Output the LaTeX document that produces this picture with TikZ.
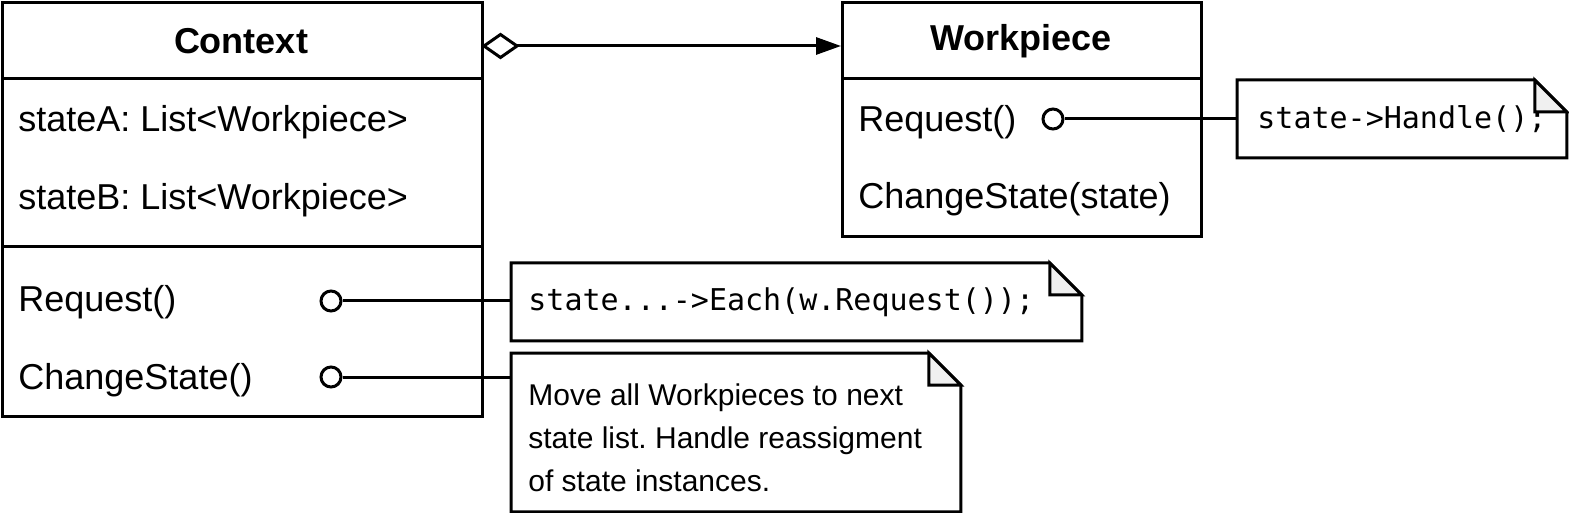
\documentclass[tikz,border=0pt]{standalone}
\usepackage{fontspec}
\setmainfont{Liberation Sans}
\newfontfamily\codefont{DejaVu Sans Mono}
\usetikzlibrary{arrows.meta,shapes.geometric}
\definecolor{foldGray}{RGB}{240,240,240}
\frenchspacing

\begin{document}
\begin{tikzpicture}
[x=0.5pt,y=-0.5pt,%
  lineDecorate/.style={-,line width=1.5pt},%
  classDecorate/.style={draw,line width=1.5pt,anchor=north west,inner sep=0pt},%
  titleDecorate/.style={font=\fontsize{18}{22}\selectfont\bfseries},%
  memberDecorate/.style={anchor=base west,inner sep=0pt,font=\fontsize{18}{22}\selectfont},%
  portDecorate/.style={shape=circle,draw,fill=white,line width=1.5pt,minimum size=10pt,inner sep=0pt},%
  aggDecorate/.style={shape=diamond,draw,fill=white,line width=1.5pt,minimum width=16.5pt,minimum height=11.5pt,inner sep=0pt,outer sep=0pt,anchor=west},%
  noteDecorate/.style={anchor=north west,align=left,inner xsep=8.5pt,font=\fontsize{15}{21.5}\selectfont}]
\useasboundingbox (0,0) rectangle (1569,513);
%% classes
\node (context) at (1,1) [classDecorate,minimum width=240pt,minimum height=207pt] {};
\node (workpiece) at (841,1) [classDecorate,minimum width=179.5pt,minimum height=117pt] {};
\draw[lineDecorate] ([yshift=-39pt]context.north west) -- ([yshift=-39pt]context.north east);
\draw[lineDecorate] ([yshift=-123pt]context.north west) -- ([yshift=-123pt]context.north east);
\draw[lineDecorate] ([yshift=-39pt]workpiece.north west) -- ([yshift=-39pt]workpiece.north east);
\node (contextTitle) at (241,41) [titleDecorate] {Context};
\node (workpieceTitle) at (1021,41) [titleDecorate] {Workpiece};
%% members
\foreach \membername/\x/\y/\membertext in {ctxStateA/18/132/{stateA: List<Workpiece>},
  ctxStateB/18/210/{stateB: List<Workpiece>}, ctxRequest/18/312/{Request()},
  ctxChange/18/389/{ChangeState()}, wpRequest/858/132/{Request()},
  wpChange/858/209/{ChangeState(state)}}
{
  \node (\membername) at (\x,\y) [memberDecorate] {\membertext};
}
%% ports
\foreach \portname/\x/\y in {ctxRequestPort/331/301, ctxChangePort/331/377, wpRequestPort/1053/119}
{
  \node (\portname) at (\x,\y) [portDecorate] {};
}
%% notes
\node (handleNote) at (1237,80) [noteDecorate,minimum width=164.5pt,minimum height=38.5pt,
  text width=144.5pt,inner xsep=10pt,font=\fontsize{15}{21.5}\selectfont\codefont] {state->Handle();};
\node (eachNote) at (511,263) [noteDecorate,minimum width=285pt,minimum height=38.5pt,
  text width=268pt,font=\fontsize{15}{21.5}\selectfont\codefont] {state...->Each(w.Request());};
\node (moveNote) at (511,353) [noteDecorate,minimum width=224.5pt,minimum height=79pt] {};
\node (moveText) at (528,438) [anchor=west,align=left,inner sep=0pt,font=\fontsize{15}{21.5}\selectfont]
  {Move all Workpieces to next\\state list. Handle reassigment\\of state instances.};
\foreach \notename in {handleNote, eachNote, moveNote}
{
  \draw[lineDecorate] (\notename.north west) -- ([xshift=-16pt]\notename.north east)
    -- ([yshift=-16pt]\notename.north east) -- (\notename.south east) -- (\notename.south west) -- cycle;
  \draw[lineDecorate,fill=foldGray] ([xshift=-16pt]\notename.north east)
    -- ([xshift=-16pt,yshift=-16pt]\notename.north east) -- ([yshift=-16pt]\notename.north east) -- cycle;
}
%% edges or lines
\path
\foreach \startnode/\endnode in {ctxRequestPort/eachNote, ctxChangePort/moveNote, wpRequestPort/handleNote}
{
  (\startnode) edge[lineDecorate] (\startnode -| \endnode.west)
};
\node (aggDiamond) at ([yshift=-22.5pt]context.north east) [aggDecorate] {};
\draw[lineDecorate,-{Triangle[length=12.5pt,width=8.5pt]}] (aggDiamond.east) -- (aggDiamond.east -| workpiece.west);
\end{tikzpicture}
\end{document}
